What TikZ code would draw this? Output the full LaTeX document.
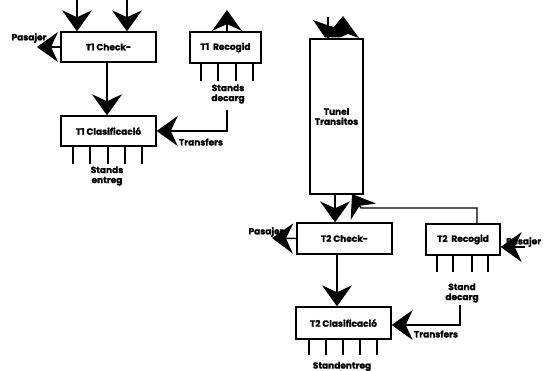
\documentclass[tikz,border=0pt]{standalone}
\usepackage{fontspec}
\setmainfont{Poppins}[BoldFeatures={FakeBold=1.2}]
\usetikzlibrary{arrows.meta}
\begin{document}
\begin{tikzpicture}[x=1pt,y=-1pt,
  every node/.style={font=\fontsize{9}{10}\selectfont\bfseries, inner sep=0pt},
  blk/.style={draw, line width=1.4pt, minimum width=#1, fill=white},
  lbl/.style={align=center},
  conn/.style={line width=1.4pt},
  arr/.style={line width=1.4pt, -{Stealth[length=21pt,width=30pt,inset=7pt]}},
  leg/.style={line width=1.4pt}]
\useasboundingbox (0,0) rectangle (550,371);
% boxes
\node[blk=95pt, minimum height=30pt] (c1) at (108.5,47) {T1 Check-};
\node[blk=95pt, minimum height=30pt] (k1) at (108.5,131) {T1 Clasificació};
\node[blk=71pt, minimum height=31pt] (r1) at (225.5,47.5) {T1\ \ Recogid};
\node[blk=53pt, minimum height=155pt, lbl] (tun) at (336.5,116.5) {Tunel\\Transitos};
\node[blk=95pt, minimum height=31pt] (c2) at (344.5,238.5) {T2 Check-};
\node[blk=95pt, minimum height=32pt] (k2) at (343.5,323) {T2 Clasificació};
\node[blk=74pt, minimum height=31pt] (r2) at (463,239.5) {T2\ \ Recogid};
% legs
\foreach \x in {73,90,108,125,142} \draw[leg] (k1.south -| \x,0) -- ++(0,17);
\foreach \x in {201,218,236,253} \draw[leg] (r1.south -| \x,0) -- ++(0,17);
\foreach \x in {309,326,343,360,377} \draw[leg] (k2.south -| \x,0) -- ++(0,15);
\foreach \x in {437,453,472,488} \draw[leg] (r2.south -| \x,0) -- ++(0,16);
% labels
\node[lbl] (se1) at (107,176) {Stands\\entreg};
\node[lbl] (sd1) at (228,94) {Stands\\decarg};
\node (tr1) at (201,142) {Transfers};
\node (pl1) at (29,38) {Pasajer};
\node (pl2) at (266,232) {Pasajer};
\node[lbl] (sd2) at (462,293) {Stand\\decarg};
\node (tr2) at (436,334) {Transfers};
\node (se2) at (342,366.5) {Standentreg};
\node[anchor=west] (pr2) at (506,242) {Pasajer};
% coordinates
\coordinate (t1a) at (77,0);
\coordinate (t1b) at (127,0);
\coordinate (p1end) at (37,47);
\coordinate (r1up) at (227,10);
\coordinate (tr1s) at (227,110);
\coordinate (p2end) at (272,238);
\coordinate (tr2s) at (460,305);
\coordinate (pr2s) at (525,247);
\coordinate (tturn) at (361,208);
\coordinate (tbot) at (352,194);
\coordinate (ttop) at (328,17);
% connectors
\draw[arr] (t1a) -- (t1a |- c1.north);
\draw[arr] (t1b) -- (t1b |- c1.north);
\draw[arr] (c1.south -| 107,0) -- (k1.north -| 107,0);
\draw[arr] (c1.west) -- (p1end);
\draw[arr] (r1.north -| r1up) -- (r1up);
\draw[arr] (tr1s) |- (k1.east);
\draw[arr] (tun.south -| 335,0) -- (c2.north -| 335,0);
\draw[arr] (r2.north -| 477,0) |- (tturn) -- (tbot);
\draw[arr] (c2.west) -- (p2end);
\draw[arr] (c2.south -| 337,0) -- (k2.north -| 337,0);
\draw[arr] (pr2s) -- (r2.east |- pr2s);
\draw[arr] (tr2s) |- (k2.east |- 0,325);
% tunnel top
\draw[conn] (tun.north -| ttop) -- (ttop);
\fill (313,20) -- (327,25) -- (334,27) -- (343,16) -- (359,38) -- (348,34) -- (340,37.5) -- (325,37.5) -- cycle;
\end{tikzpicture}
\end{document}
